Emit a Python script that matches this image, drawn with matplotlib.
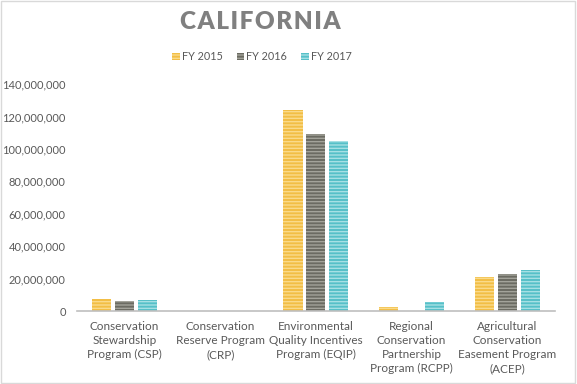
import numpy as np
import matplotlib
matplotlib.use("Agg")
import matplotlib.pyplot as plt

programs = ["Conservation\nStewardship\nProgram (CSP)",
            "Conservation\nReserve Program\n(CRP)",
            "Environmental\nQuality Incentives\nProgram (EQIP)",
            "Regional\nConservation\nPartnership\nProgram (RCPP)",
            "Agricultural\nConservation\nEasement Program\n(ACEP)"]
years = ["FY 2015", "FY 2016", "FY 2017"]
fy2015 = [7.4e6, 0, 124e6, 2.5e6, 21e6]
fy2016 = [6.2e6, 0, 109e6, 0, 22.8e6]
fy2017 = [6.8e6, 0, 105e6, 5.5e6, 25.3e6]

colors = ["#F2BE45", "#6B6B62", "#56C0C8"]
stripes = ["#FADA8A", "#A3A39A", "#A6E0E4"]

plt.rcParams['font.family'] = ['Lato', 'DejaVu Sans']

fig = plt.figure(figsize=(5.77, 3.84), dpi=100)
ax = fig.add_axes([0.133, 0.19, 0.829, 0.591])

x = np.arange(len(programs))
w = 0.2
gap = 0.04
for i, (vals, c, s, lab) in enumerate(zip([fy2015, fy2016, fy2017], colors, stripes, years)):
    ax.bar(x + (i - 1) * (w + gap), vals, width=w, color=c, edgecolor=s,
           linewidth=0, hatch="-----", label=lab)

ax.set_xlim(-0.5, 4.5)
ax.set_ylim(0, 140e6)
ax.set_yticks(np.arange(0, 140e6 + 1, 20e6))
ax.yaxis.set_major_formatter(matplotlib.ticker.FuncFormatter(lambda v, p: f"{int(v):,}"))
ax.set_xticks(x)
ax.set_xticklabels(programs, fontsize=8.5, color="#595959", linespacing=1.35)
ax.tick_params(axis="y", length=0, labelsize=8, colors="#595959", pad=8)
ax.tick_params(axis="x", length=0, pad=7)
for side in ["top", "right", "left"]:
    ax.spines[side].set_visible(False)
ax.spines["bottom"].set_color("#BFBFBF")
ax.spines["bottom"].set_linewidth(1.2)

fig.text(0.451, 0.943, "\u200a".join("CALIFORNIA"),
         ha="center", va="center", fontsize=17.5, fontweight="heavy", color="#808080")
leg = fig.legend(loc="center", bbox_to_anchor=(0.454, 0.852), ncol=3, frameon=False,
                 fontsize=7.8, handlelength=0.7, handleheight=0.7, handletextpad=0.2,
                 columnspacing=1.3)
for t in leg.get_texts():
    t.set_color("#595959")

fig.patches.append(matplotlib.patches.Rectangle((0.002, 0.003), 0.995, 0.994,
                   transform=fig.transFigure, fill=False, edgecolor="#D9D9D9", linewidth=1))

fig.savefig("out.png", dpi=100)
